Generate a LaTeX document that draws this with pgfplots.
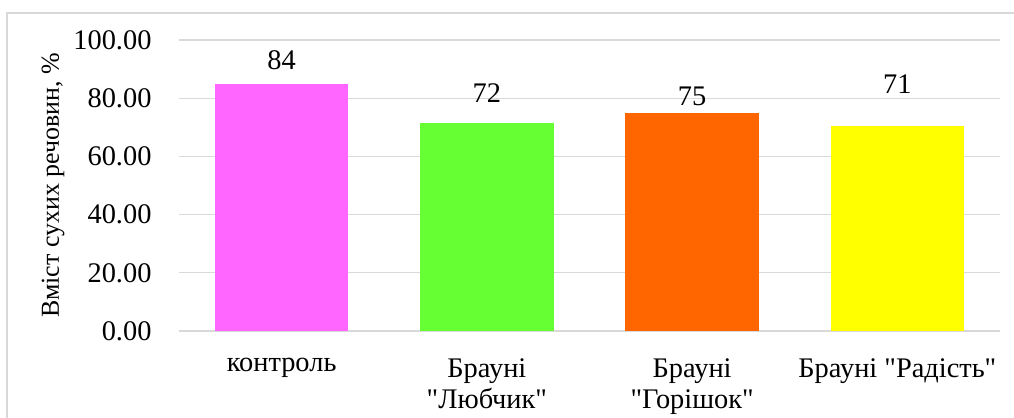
\documentclass[border=0pt]{standalone}
\usepackage{fontspec}
\setmainfont{Liberation Serif}[Ligatures=NoCommon]
\usepackage{pgfplots}
\pgfplotsset{compat=1.18}
\definecolor{gridc}{HTML}{D9D9D9}
\definecolor{cmag}{HTML}{FF66FF}
\definecolor{cgrn}{HTML}{66FF33}
\definecolor{corg}{HTML}{FF6600}
\definecolor{cyel}{HTML}{FFFF00}
\newcommand{\q}{\textquotedbl}
\begin{document}
\begin{tikzpicture}
\path[use as bounding box] (-179bp,-87bp) rectangle (835bp,331bp);
\draw[gridc, line width=1.2bp] (-172bp,-95bp) -- (-172bp,318bp) -- (840bp,318bp);
\begin{axis}[
  at={(0,0)}, anchor=south west,
  scale only axis,
  width=821bp, height=291bp,
  xmin=-0.5, xmax=3.5,
  ymin=0, ymax=100,
  ytick={0,20,...,100},
  xtick={0,1,2,3},
  xticklabels={контроль, {Брауні\\\q Любчик\q}, {Брауні\\\q Горішок\q}, {Брауні \q Радість\q}},
  xticklabel style={align=center, font=\rmfamily\fontsize{28.5}{31}\selectfont, yshift=-24bp},
  yticklabel style={font=\rmfamily\fontsize{28.5}{30}\selectfont, xshift=-24bp},
  /pgf/number format/assume math mode=true,
  yticklabel={\pgfmathprintnumber[fixed, fixed zerofill, precision=2]{\tick}},
  ylabel={Вміст сухих речовин, \%},
  ylabel style={font=\rmfamily\fontsize{26}{28}\selectfont, yshift=2bp},
  axis line style={draw=none},
  major tick length=0pt,
  ymajorgrids, grid style={gridc, line width=1.2bp},
  ybar, bar width=0.65, bar shift=0pt,
  clip=false,
]
\addplot[fill=cmag, draw=none] coordinates {(0,84.9)};
\addplot[fill=cgrn, draw=none] coordinates {(1,71.6)};
\addplot[fill=corg, draw=none] coordinates {(2,74.9)};
\addplot[fill=cyel, draw=none] coordinates {(3,70.4)};
\node[font=\rmfamily\fontsize{28.5}{30}\selectfont] at (axis cs:0,93.1) {84};
\node[font=\rmfamily\fontsize{28.5}{30}\selectfont] at (axis cs:1,81.8) {72};
\node[font=\rmfamily\fontsize{28.5}{30}\selectfont] at (axis cs:2,80.8) {75};
\node[font=\rmfamily\fontsize{28.5}{30}\selectfont] at (axis cs:3,84.9) {71};
\end{axis}
\end{tikzpicture}
\end{document}
